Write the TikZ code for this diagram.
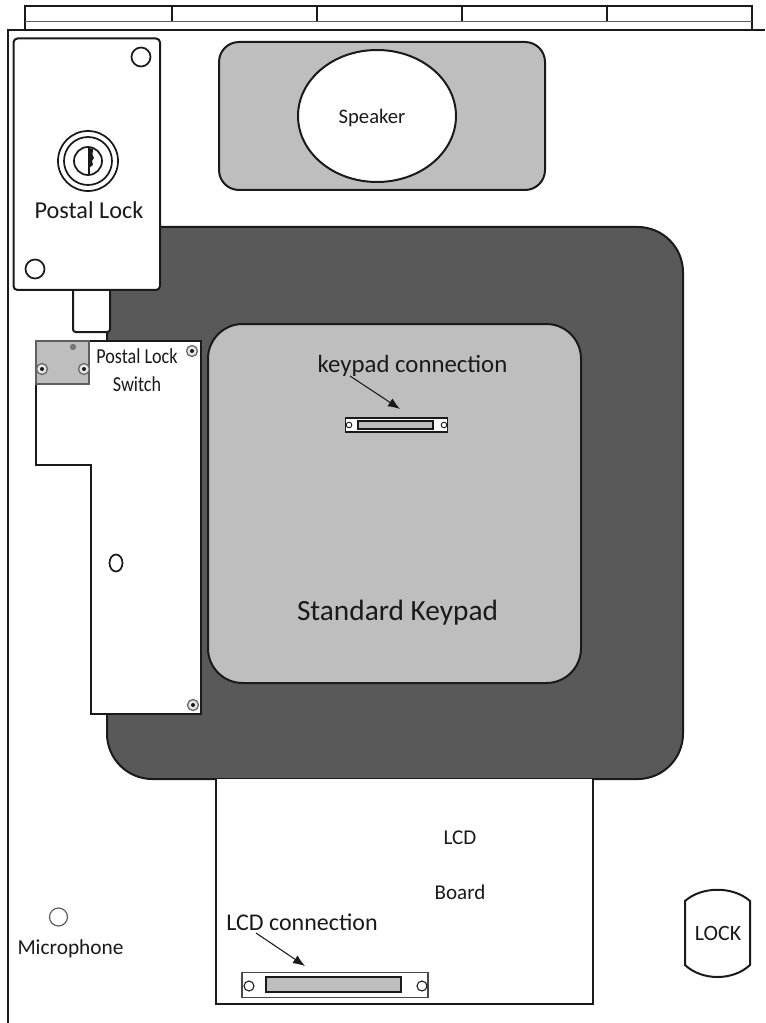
\documentclass[tikz,border=0pt]{standalone}
\usepackage{fontspec}
\setmainfont{Carlito}
\usetikzlibrary{arrows.meta}
\definecolor{darkpad}{HTML}{595959}
\definecolor{lightpad}{HTML}{BEBEBE}
\definecolor{inkline}{HTML}{1A1A1A}
\tikzset{
  px/.style={x=0.75pt,y=-0.75pt},
  outline/.style={draw=inkline,line width=1.5pt},
  thin outline/.style={draw=inkline,line width=0.9pt},
  label/.style={text=inkline,inner sep=0pt,align=center},
  pointer/.style={draw=inkline,line width=0.8pt,-{Latex[length=9pt,width=7pt]}},
  hole/.style={draw=inkline,line width=1.3pt,fill=white},
  screw/.style={draw=inkline!65,line width=1pt,fill=lightpad!40},
}
\newcommand{\screwat}[2]{%
  \path[screw] (#1,#2) circle[radius=5.5];
  \fill[inkline] (#1,#2) circle[radius=2];
}
\begin{document}
\begin{tikzpicture}[px]
\useasboundingbox (0,0) rectangle (765,1023);
\fill[white] (0,0) rectangle (765,1023);
% top strip
\draw[thin outline] (25,30) -- (25,6) -- (752,6) -- (752,30);
\draw[draw=inkline!70,line width=1pt] (25,21.5) -- (752,21.5);
\foreach \x in {172,317,462,607} \draw[thin outline] (\x,6) -- (\x,21.5);
% main frame
\coordinate (frameA) at (765,30);
\coordinate (frameB) at (8,30);
\coordinate (frameC) at (8,1023);
\draw[outline] (frameA) -- (frameB) -- (frameC);
% speaker
\draw[outline,fill=lightpad,rounded corners=15pt] (219,42) rectangle (545,190);
\path[outline,fill=white] (377,116) ellipse[x radius=79,y radius=66];
\node[label,font=\fontsize{15.5}{18}\selectfont] (speaker) at (372,118) {Speaker};
% dark keypad body
\draw[outline,fill=darkpad,rounded corners=34pt] (107,227) rectangle (683,779);
% keypad
\draw[outline,fill=lightpad,rounded corners=26pt] (208,324) rectangle (581,683);
\node[label,font=\fontsize{18.6}{22}\selectfont] (kplabel) at (412.5,366) {keypad connection};
\node[label,font=\fontsize{22}{26}\selectfont] (stdkp) at (397.5,613) {Standard Keypad};
\node[draw=inkline,line width=0.8pt,fill=white,inner sep=0pt,minimum width=77pt,minimum height=10.5pt] (kpconn) at (396.5,425) {};
\path[draw=inkline,line width=0.8pt,fill=lightpad] (358,421) rectangle (433,429);
\path[draw=inkline,line width=0.7pt,fill=white] (349,425) circle[radius=2.8] (444,425) circle[radius=2.8];
\coordinate (kpstart) at (350,376);
\coordinate (kpend) at (400,409);
\draw[pointer] (kpstart) -- (kpend);
% LCD board
\draw[outline,fill=white] (216,779) -- (216,1004) -- (593,1004) -- (593,779);
\node[label,font=\fontsize{15.8}{18}\selectfont] (lcd) at (460,838) {LCD};
\node[label,font=\fontsize{15.8}{18}\selectfont] (board) at (460,892) {Board};
\node[label,font=\fontsize{18}{22}\selectfont] (lcdlabel) at (302,922) {LCD connection};
\node[draw=inkline!80,line width=0.8pt,fill=white,inner sep=0pt,minimum width=139.5pt,minimum height=19pt] (lcdconn) at (335,985) {};
\path[draw=inkline,line width=0.9pt,fill=lightpad] (266,977) rectangle (401,992);
\path[draw=inkline,line width=0.8pt,fill=white] (249,986) circle[radius=5] (422,986) circle[radius=5];
\coordinate (lcdstart) at (256,933);
\coordinate (lcdend) at (305,966);
\draw[pointer] (lcdstart) -- (lcdend);
% postal lock stub
\draw[outline,fill=white,rounded corners=2pt] (73,285) -- (73,332) -- (110,332) -- (110,285);
% switch board
\draw[outline,fill=white] (36,341) -- (201,341) -- (201,714) -- (90.5,714) -- (90.5,465) -- (36,465) -- cycle;
\draw[draw=inkline!70,line width=0.8pt,fill=lightpad] (36,341) rectangle (89,384);
\screwat{42}{369}
\screwat{84}{369}
\fill[inkline!60] (73,347) circle[radius=3.2];
\screwat{192}{351}
\screwat{193}{705}
\path[hole] (116,563) ellipse[x radius=6.5,y radius=8.5];
\node[label,font=\fontsize{16}{18}\selectfont,xscale=0.85] (pls1) at (137,356) {Postal Lock};
\node[label,font=\fontsize{16}{18}\selectfont,xscale=0.85] (pls2) at (137,384) {Switch};
% postal lock
\draw[outline,fill=white,rounded corners=3pt] (13.5,38.5) rectangle (160,290);
\path[hole] (141,57) circle[radius=9.5] (35,269) circle[radius=9.5];
\path[hole] (88,161) circle[radius=30];
\path[hole] (88,161) circle[radius=24];
\path[hole] (88,161) circle[radius=14];
\draw[line width=1.2pt,draw=inkline] (89,147) -- (89,175);
\fill[inkline] (89,148) -- (93,149) -- (92.5,155) -- (94,158) -- (92,161) -- (93,165) -- (89,168) -- cycle;
\node[label,font=\fontsize{18.2}{22}\selectfont] (plock) at (89,210) {Postal Lock};
% lock button
\draw[outline,fill=white] (685,901) .. controls (702,886) and (733,886) .. (750,901) -- (750,965) .. controls (733,981) and (702,981) .. (685,965) -- cycle;
\node[label,font=\fontsize{16.4}{19}\selectfont] (lock) at (718,933) {LOCK};
% microphone
\path[draw=inkline!70,line width=0.9pt,fill=white] (58.5,917) circle[radius=9];
\node[label,font=\fontsize{16}{19}\selectfont] (mic) at (70.5,949) {Microphone};
\end{tikzpicture}
\end{document}
